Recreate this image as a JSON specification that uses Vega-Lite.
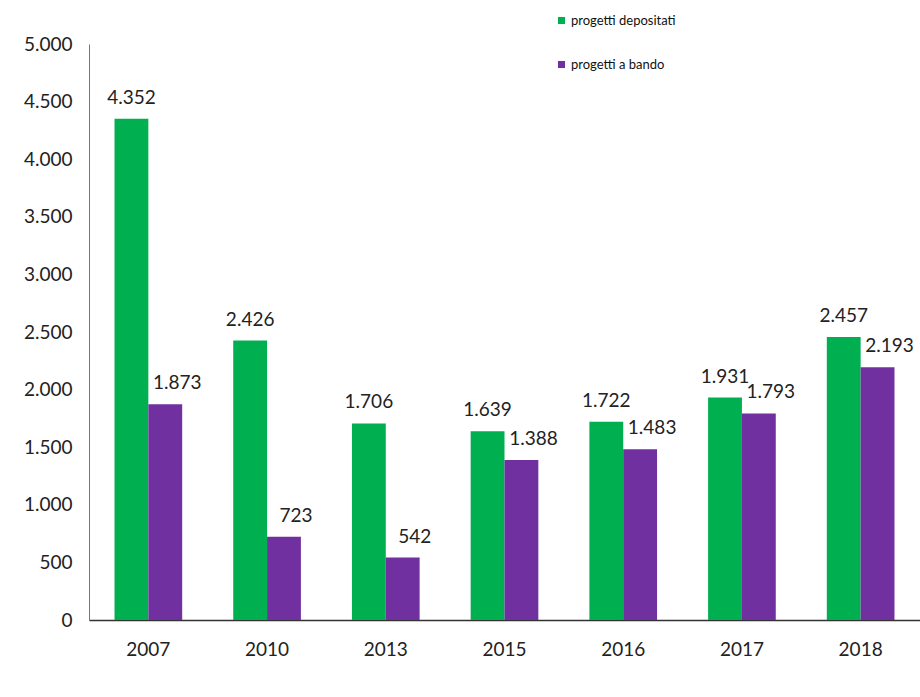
{
  "$schema": "https://vega.github.io/schema/vega-lite/v6.json",
  "autosize": "none",
  "width": 831,
  "height": 576,
  "padding": {"left": 89, "top": 44, "right": 0, "bottom": 77},
  "background": "white",
  "config": {
    "locale": {"number": {"decimal": ",", "thousands": ".", "grouping": [3], "currency": ["€", ""]}},
    "view": {"stroke": null},
    "font": "Lato"
  },
  "data": {"values": [
    {"anno": "2007", "serie": "progetti depositati", "valore": 4352},
    {"anno": "2007", "serie": "progetti a bando", "valore": 1873},
    {"anno": "2010", "serie": "progetti depositati", "valore": 2426},
    {"anno": "2010", "serie": "progetti a bando", "valore": 723},
    {"anno": "2013", "serie": "progetti depositati", "valore": 1706},
    {"anno": "2013", "serie": "progetti a bando", "valore": 542},
    {"anno": "2015", "serie": "progetti depositati", "valore": 1639},
    {"anno": "2015", "serie": "progetti a bando", "valore": 1388},
    {"anno": "2016", "serie": "progetti depositati", "valore": 1722},
    {"anno": "2016", "serie": "progetti a bando", "valore": 1483},
    {"anno": "2017", "serie": "progetti depositati", "valore": 1931},
    {"anno": "2017", "serie": "progetti a bando", "valore": 1793},
    {"anno": "2018", "serie": "progetti depositati", "valore": 2457},
    {"anno": "2018", "serie": "progetti a bando", "valore": 2193}
  ]},
  "encoding": {
    "x": {
      "field": "anno", "type": "nominal",
      "scale": {"paddingInner": 0.43, "paddingOuter": 0.215},
      "axis": {"title": null, "labelAngle": 0, "labelFontSize": 19, "labelColor": "#222", "labelPadding": 20, "ticks": false, "domainColor": "#333", "domainWidth": 1.5}
    },
    "xOffset": {"field": "serie", "type": "nominal", "sort": ["progetti depositati", "progetti a bando"]},
    "y": {
      "field": "valore", "type": "quantitative",
      "scale": {"domain": [0, 5000]},
      "axis": {"title": null, "values": [0, 500, 1000, 1500, 2000, 2500, 3000, 3500, 4000, 4500, 5000], "format": ",d", "grid": false, "ticks": false, "labelFontSize": 19, "labelColor": "#222", "labelPadding": 17, "domainColor": "#777"}
    }
  },
  "layer": [
    {
      "mark": {"type": "bar"},
      "encoding": {
        "color": {
          "field": "serie", "type": "nominal",
          "sort": ["progetti depositati", "progetti a bando"],
          "scale": {"domain": ["progetti depositati", "progetti a bando"], "range": ["#00B050", "#7030A0"]},
          "legend": {
            "title": null, "orient": "none", "legendX": 466, "legendY": -30,
            "symbolType": "square", "symbolSize": 50, "symbolStrokeWidth": 0,
            "labelFontSize": 13, "labelColor": "#111", "rowPadding": 30, "labelOffset": 3, "direction": "vertical"
          }
        }
      }
    },
    {
      "transform": [{"filter": "datum.serie === 'progetti depositati'"}],
      "mark": {"type": "text", "baseline": "bottom", "dy": -11, "fontSize": 19, "color": "#222"},
      "encoding": {"text": {"field": "valore", "type": "quantitative", "format": ",d"}}
    },
    {
      "transform": [{"filter": "datum.serie === 'progetti a bando'"}],
      "mark": {"type": "text", "baseline": "bottom", "dy": -11, "dx": 12, "fontSize": 19, "color": "#222"},
      "encoding": {"text": {"field": "valore", "type": "quantitative", "format": ",d"}}
    }
  ]
}
